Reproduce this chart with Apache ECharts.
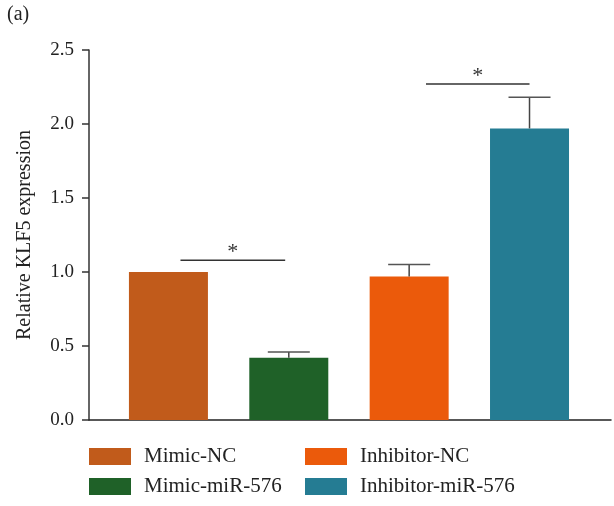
<!DOCTYPE html>
<html>
<head>
<meta charset="utf-8">
<script src="https://cdn.jsdelivr.net/npm/echarts@6/dist/echarts.min.js"></script>
<style>html,body{margin:0;padding:0;background:#fff;}#c{width:614px;height:506px;}</style>
</head>
<body>
<div id="c"></div>
<script>
const categories = ['Mimic-NC', 'Mimic-miR-576', 'Inhibitor-NC', 'Inhibitor-miR-576'];
const values = [1.0, 0.42, 0.97, 1.97];
const errors = [0, 0.04, 0.08, 0.21];
const colors = ['#C15B1B', '#1F6128', '#EB5A0B', '#257C93'];
const yTicks = [0, 0.5, 1.0, 1.5, 2.0, 2.5];
const sigFrom = [0.1, 2.14];
const sigTo = [0.97, 3.0];
const sigY = [1.08, 2.27];
const sigLabel = ['*', '*'];

const FONT = '"Liberation Serif", "DejaVu Serif", serif';
const chart = echarts.init(document.getElementById('c'), null, {renderer: 'canvas'});

const barSeries = categories.map((name, i) => ({
  name: name,
  type: 'bar',
  data: [[i, values[i]]],
  barWidth: 79,
  barGap: '-100%',
  itemStyle: {color: colors[i]},
  z: 2
}));

const errSeries = {
  type: 'custom',
  z: 4,
  silent: true,
  data: categories.map((c, i) => [i, values[i], errors[i]]),
  renderItem: function (params, api) {
    const x = api.value(0), v = api.value(1), e = api.value(2);
    if (!e) return null;
    const p0 = api.coord([x, v]);
    const p1 = api.coord([x, v + e]);
    const hw = 21;
    return {
      type: 'group',
      children: [
        {type: 'line', shape: {x1: p0[0], y1: p0[1], x2: p1[0], y2: p1[1]}, style: {stroke: '#444', lineWidth: 1.5}},
        {type: 'line', shape: {x1: p1[0] - hw, y1: p1[1], x2: p1[0] + hw, y2: p1[1]}, style: {stroke: '#555', lineWidth: 1.5}}
      ]
    };
  }
};

const sigSeries = {
  type: 'custom',
  z: 4,
  silent: true,
  data: sigY.map((y, i) => [sigFrom[i], sigTo[i], y]),
  renderItem: function (params, api) {
    const a = api.coord([api.value(0), api.value(2)]);
    const b = api.coord([api.value(1), api.value(2)]);
    return {
      type: 'group',
      children: [
        {type: 'line', shape: {x1: a[0], y1: a[1], x2: b[0], y2: b[1]}, style: {stroke: '#333', lineWidth: 1.5}},
        {type: 'text', style: {text: sigLabel[params.dataIndex], x: (a[0] + b[0]) / 2, y: a[1] + 3, textAlign: 'center', textVerticalAlign: 'bottom', font: '22px ' + FONT, fill: '#333'}}
      ]
    };
  }
};

const legendPos = [[89, 446], [89, 476], [305, 446], [305, 476]];
const legends = categories.map((name, i) => ({
  data: [name],
  left: legendPos[i][0], top: legendPos[i][1],
  padding: 0,
  itemWidth: 42, itemHeight: 17, icon: 'rect',
  textStyle: {fontFamily: FONT, fontSize: 21, color: '#222', padding: [0, 0, 0, 8]}
}));

const option = {
  animation: false,
  backgroundColor: '#fff',
  title: {
    text: '(a)', left: 2, top: 0,
    textStyle: {fontFamily: FONT, fontSize: 20, fontWeight: 'normal', color: '#222'}
  },
  grid: {left: 89, right: 3, top: 50, bottom: 86},
  xAxis: {
    type: 'value',
    min: -0.66, max: 3.677,
    axisLine: {show: true, onZero: false, lineStyle: {color: '#222', width: 1.5}},
    axisTick: {show: false},
    axisLabel: {show: false},
    splitLine: {show: false}
  },
  yAxis: {
    type: 'value',
    min: 0, max: 2.5, interval: 0.5,
    name: 'Relative KLF5 expression',
    nameLocation: 'middle',
    nameGap: 54,
    nameTextStyle: {fontFamily: FONT, fontSize: 20, color: '#222'},
    axisLine: {show: true, onZero: false, lineStyle: {color: '#333', width: 1.5}},
    axisTick: {show: true, length: 7, lineStyle: {color: '#333', width: 1.5}},
    axisLabel: {
      margin: 15, fontFamily: FONT, fontSize: 19, color: '#222',
      formatter: function (v) { return yTicks.indexOf(v) >= 0 ? v.toFixed(1) : ''; }
    },
    splitLine: {show: false}
  },
  legend: legends,
  series: barSeries.concat([errSeries, sigSeries])
};
chart.setOption(option);
</script>
</body>
</html>
